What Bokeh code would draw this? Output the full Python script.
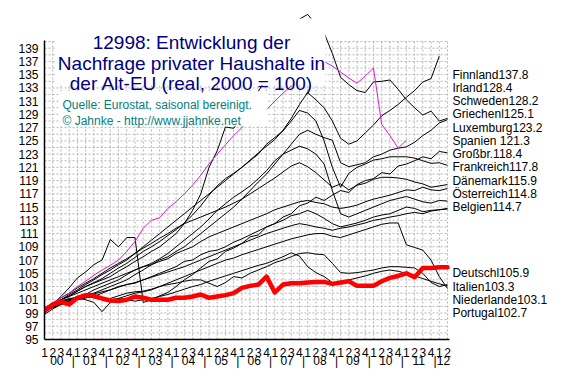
from bokeh.plotting import figure
from bokeh.models import Range1d, LinearAxis, FixedTicker, BoxAnnotation, Label
from bokeh.core.properties import value
from bokeh.embed import file_html
from bokeh.resources import INLINE

# ---------------- data ----------------
years = ["00", "01", "02", "03", "04", "05", "06", "07", "08", "09", "10", "11", "12"]
quarter_names = ["1", "2", "3", "4"]
y_ticks = [95, 97, 99, 101, 103, 105, 107, 109, 111, 113, 115, 117, 119, 121,
           123, 125, 127, 129, 131, 133, 135, 137, 139]

countries = ["Finnland", "Irland", "Schweden", "Griechenl", "Luxemburg", "Spanien ",
             "Großbr.", "Frankreich", "Dänemark", "Österreich", "Belgien",
             "Deutschl", "Italien", "Niederlande", "Portugal"]
last_values = [137.8, 128.4, 128.2, 125.1, 123.2, 121.3, 118.4, 117.8, 115.9,
               114.8, 114.7, 105.9, 103.3, 103.1, 102.7]

finnland = [99.5, 100.4, 101.0, 101.6, 102.3, 103.0, 103.6, 104.2, 105.0, 105.8,
            106.5, 107.4, 108.3, 109.0, 109.8, 110.7, 111.6, 112.6, 113.8, 115.2,
            116.8, 118.2, 119.3, 120.1, 121.0, 122.1, 123.2, 124.2, 125.2, 126.6,
            128.4, 130.5, 132.3, 131.2, 130.0, 128.0, 125.4, 124.5, 125.0, 126.2,
            127.4, 128.8, 129.6, 130.5, 131.6, 132.6, 133.9, 134.4, 137.8]
irland = [99.5, 100.3, 101.0, 101.5, 102.3, 103.0, 103.5, 104.0, 104.5, 105.3,
          106.0, 106.8, 107.5, 108.3, 109.0, 110.0, 111.0, 112.5, 114.5, 117.0,
          121.0, 123.5, 127.1, 126.9, 128.5, 130.4, 132.5, 134.5, 136.5, 138.6,
          140.8, 143.4, 144.1, 142.6, 141.3, 138.2, 134.6, 133.5, 132.6, 132.3,
          133.9, 134.0, 134.2, 132.8, 131.2, 130.0, 128.9, 129.5, 128.0, 128.4]
schweden = [99.8, 100.3, 100.8, 101.0, 101.5, 101.8, 102.0, 102.5, 103.0, 103.5,
            104.0, 104.8, 105.5, 106.3, 107.0, 107.5, 108.3, 109.0, 110.0, 111.0,
            112.0, 113.0, 114.0, 115.0, 116.2, 117.5, 118.8, 120.0, 121.5, 123.0,
            124.5, 126.0, 126.6, 126.0, 125.5, 125.1, 121.7, 121.1, 121.4, 121.7,
            122.6, 123.0, 123.6, 123.9, 124.1, 124.8, 125.8, 126.6, 127.7, 128.2]
griechenland = [99.8, 100.5, 101.3, 102.0, 103.0, 103.8, 104.7, 105.5, 106.2, 107.0,
                108.3, 109.8, 111.8, 113.0, 113.4, 114.8, 115.8, 117.0, 118.3, 119.8,
                121.5, 123.0, 124.4, 125.8, 127.0, 128.2, 128.9, 129.7, 131.0, 132.2,
                133.3, 134.4, 135.4, 136.3, 137.0, 136.3, 135.4, 134.5, 133.7, 134.8,
                136.0, 127.5, 125.8, 123.9, 125.1]
luxemburg = [99.0, 100.3, 101.5, 102.8, 104.3, 105.2, 106.3, 107.0, 110.1, 109.0,
             110.4, 110.4, 100.6, 101.0, 101.6, 102.1, 103.0, 104.0, 104.8, 105.8,
             106.8, 107.2, 108.3, 108.8, 109.5, 110.5, 110.8, 112.0, 112.5, 113.5,
             114.0, 115.2, 115.6, 116.5, 116.0, 116.8, 117.5, 117.2, 118.4, 119.0,
             119.3, 120.2, 120.0, 121.2, 121.5, 122.0, 122.6, 122.3, 123.4, 123.2]
spanien = [99.5, 100.3, 101.0, 101.8, 102.5, 103.3, 104.0, 104.8, 105.5, 106.3,
           107.0, 108.0, 109.0, 110.0, 111.0, 112.0, 113.0, 114.0, 115.0, 116.0,
           117.0, 118.0, 119.0, 120.0, 121.0, 122.0, 123.0, 124.5, 125.5, 126.5,
           128.0, 129.6, 129.2, 128.0, 125.0, 121.0, 118.0, 120.1, 121.0, 121.5,
           122.1, 122.3, 122.6, 122.6, 122.6, 122.4, 122.0, 121.6, 121.7, 121.3]
grossbr = [99.5, 100.5, 101.3, 102.0, 102.8, 103.5, 104.2, 105.0, 105.8, 106.5,
           107.2, 108.0, 108.8, 109.5, 110.3, 111.0, 111.8, 112.5, 113.0, 113.5,
           114.0, 114.5, 115.0, 115.6, 116.2, 117.0, 117.8, 118.6, 119.4, 120.3,
           121.2, 121.7, 121.1, 120.2, 119.1, 118.0, 118.5, 117.6, 118.3, 118.6,
           119.2, 119.5, 119.5, 119.4, 119.2, 118.8, 118.5, 118.0, 118.2, 118.4]
frankreich = [99.8, 100.5, 101.0, 101.5, 102.0, 102.5, 103.0, 103.5, 104.0, 104.5,
              105.0, 105.5, 106.0, 106.3, 106.8, 107.2, 108.0, 108.5, 109.0, 109.8,
              110.5, 111.0, 111.5, 112.0, 112.5, 113.0, 113.5, 114.0, 114.6, 115.0,
              115.4, 115.8, 116.0, 115.7, 115.5, 115.0, 114.8, 115.0, 115.3, 115.8,
              116.2, 116.5, 116.8, 117.2, 117.6, 117.5, 118.0, 117.6, 117.5, 117.8]
daenemark = [99.3, 99.8, 100.3, 100.8, 101.2, 101.8, 102.5, 103.0, 103.5, 104.0,
             104.8, 105.5, 106.0, 106.5, 107.2, 108.0, 109.0, 110.0, 111.0, 112.0,
             113.2, 114.5, 115.5, 116.5, 117.3, 118.2, 119.3, 120.5, 122.0, 123.0,
             123.6, 124.2, 123.8, 123.0, 121.5, 117.5, 114.0, 113.5, 114.0, 114.5,
             115.0, 115.5, 116.0, 116.3, 116.6, 116.2, 115.8, 115.6, 116.0, 115.9]
oesterreich = [99.8, 100.3, 100.7, 101.0, 101.3, 101.6, 101.9, 102.2, 102.5, 102.9,
               103.3, 103.6, 104.0, 104.4, 104.8, 105.2, 105.6, 106.0, 106.5, 107.0,
               107.5, 108.0, 108.5, 109.0, 109.5, 110.0, 110.5, 111.0, 111.4, 111.8,
               112.2, 112.5, 112.3, 112.0, 111.8, 111.5, 111.8, 112.0, 112.3, 112.6,
               113.0, 113.2, 113.5, 113.7, 114.0, 114.2, 114.0, 114.4, 114.6, 114.8]
belgien = [99.3, 99.8, 100.3, 100.8, 101.0, 101.3, 101.5, 102.0, 102.5, 103.0,
           103.3, 103.5, 104.0, 104.5, 105.0, 105.5, 106.0, 106.8, 107.0, 107.8,
           108.3, 108.5, 109.0, 109.7, 110.2, 110.8, 111.4, 112.0, 112.5, 113.0,
           113.7, 114.0, 114.5, 114.0, 113.3, 112.5, 112.0, 112.3, 112.6, 113.0,
           113.5, 113.8, 114.0, 114.5, 115.0, 114.8, 114.3, 114.5, 114.6, 114.7]
deutschland = [99.3, 100.3, 100.7, 100.3, 101.3, 101.7, 101.6, 101.2, 100.9, 100.8,
               101.0, 101.5, 101.3, 101.0, 101.0, 101.0, 101.3, 101.3, 101.5, 101.8,
               101.3, 101.5, 101.7, 102.0, 102.8, 103.1, 103.3, 104.5, 102.1, 103.3,
               103.5, 103.5, 103.6, 103.7, 103.7, 103.4, 103.6, 103.8, 103.1, 103.1,
               103.1, 103.8, 104.3, 104.6, 105.0, 104.4, 105.8, 105.8, 105.9, 105.9]
italien = [99.3, 100.0, 100.5, 100.8, 101.2, 101.5, 101.3, 101.0, 101.2, 101.6,
           102.0, 102.2, 102.3, 102.6, 103.0, 103.3, 103.5, 103.8, 104.0, 104.0,
           103.5, 103.0, 103.6, 104.5, 104.3, 105.0, 105.5, 106.0, 106.6, 107.0,
           107.5, 108.0, 108.1, 107.9, 107.8, 106.5, 105.1, 105.0, 105.1, 105.3,
           105.5, 105.8, 106.0, 106.0, 105.9, 105.8, 105.0, 103.6, 103.0, 103.3]
niederlande = [98.8, 99.6, 100.3, 100.8, 101.0, 101.3, 101.5, 101.3, 101.0, 101.2,
               101.0, 100.8, 101.0, 101.2, 101.5, 101.8, 102.2, 102.6, 103.0, 103.3,
               103.8, 104.2, 104.6, 105.0, 105.4, 105.8, 106.2, 106.5, 107.0, 107.5,
               108.1, 107.6, 106.0, 105.1, 104.5, 103.6, 103.6, 104.0, 104.3, 104.6,
               105.0, 105.3, 105.5, 105.3, 105.0, 104.6, 104.2, 103.8, 103.4, 103.1]
portugal = [99.0, 100.0, 100.8, 101.2, 101.3, 101.0, 100.6, 99.2, 100.6, 101.2,
            101.6, 102.0, 102.2, 102.5, 103.0, 103.5, 104.0, 104.5, 105.0, 105.5,
            106.0, 106.5, 107.0, 107.3, 107.8, 108.2, 108.6, 109.0, 109.4, 109.8,
            110.2, 110.5, 110.8, 111.0, 111.0, 110.6, 110.4, 110.8, 111.2, 111.6,
            112.0, 112.4, 112.6, 112.6, 109.3, 108.9, 108.5, 107.0, 104.5, 102.7]

black_series = [finnland, irland, schweden, luxemburg, spanien, grossbr, frankreich,
                daenemark, oesterreich, belgien, italien, niederlande, portugal]

# ---------------- figure ----------------
N_Q = len(years) * 4 - 2          # quarters shown: 2000Q1 .. 2012Q2
PX_X = 403 / 49                   # pixels per quarter
PX_Y = 6.64                       # pixels per index point
W, H, LEFT, BOTTOM = 547, 370, 44, 30
Y0 = 95
p = figure(width=W, height=H,
           x_range=Range1d(0, (W - LEFT) / PX_X),
           y_range=Range1d(Y0, Y0 + (H - BOTTOM) / PX_Y),
           output_backend="svg", toolbar_location=None, x_axis_type=None, y_axis_type=None,
           min_border_left=LEFT, min_border_right=0, min_border_top=0,
           min_border_bottom=BOTTOM)
p.outline_line_color = None
p.background_fill_color = "white"
p.border_fill_color = "white"

# dashed grid (only inside the chart area)
GRID_TOP = 140
gx = [[q, q] for q in range(1, N_Q)]
gy = [[Y0, GRID_TOP] for q in range(1, N_Q)]
hx = [[0, N_Q - 1] for v in range(Y0 + 1, GRID_TOP + 1)]
hy = [[v, v] for v in range(Y0 + 1, GRID_TOP + 1)]
p.multi_line(gx + hx, gy + hy, line_color="#b4b4b4", line_width=1, line_dash="2 2",
             level="underlay")

# series
for s in black_series:
    p.line(list(range(len(s))), s, line_color="black", line_width=1)
p.line(list(range(len(griechenland))), griechenland, line_color="#d21ed2", line_width=1)
p.line(list(range(len(deutschland))), deutschland, line_color="#ff0000", line_width=4.5,
       line_join="round", line_cap="round")

# axes
FONT = "Liberation Sans"
yax = LinearAxis(ticker=FixedTicker(ticks=y_ticks), bounds=(Y0, 140.2))
xax = LinearAxis(ticker=FixedTicker(ticks=list(range(N_Q))), bounds=(0, N_Q - 0.7),
                 major_label_overrides={i: quarter_names[i % 4] for i in range(N_Q)})
year_labels = {}
for k, yr in enumerate(years):
    nq = 4 if k < len(years) - 1 else 2
    year_labels[4 * k + (nq - 1) / 2] = yr
    if k > 0:
        year_labels[4 * k - 0.5] = "|"
yrax = LinearAxis(ticker=FixedTicker(ticks=sorted(year_labels)),
                  major_label_overrides=year_labels)
for ax in (yax, xax, yrax):
    ax.major_tick_line_color = None
    ax.minor_tick_line_color = None
    ax.major_tick_in = 0
    ax.major_tick_out = 0
    ax.minor_tick_in = 0
    ax.minor_tick_out = 0
    ax.major_label_text_font = FONT
    ax.major_label_text_font_size = "12px"
    ax.major_label_text_color = "black"
    ax.axis_line_color = "black"
    ax.axis_line_width = 1.5
yax.major_label_standoff = 6
xax.major_label_standoff = 8
yrax.axis_line_color = None
yrax.major_label_standoff = -6
p.add_layout(yax, "left")
p.add_layout(xax, "below")
p.add_layout(yrax, "below")

# end labels on the right
slots = [135 - 2 * k for k in range(11)] + [105 - 2 * k for k in range(4)]
labels = [f"{c}{v}" for c, v in zip(countries, last_values)]
p.text(x=[49.6] * len(labels), y=slots, text=labels, text_font=value(FONT),
       text_font_size="12px", text_color="black", text_baseline="middle",
       text_align="left")

# white boxes behind title and source
p.add_layout(BoxAnnotation(left=1.34, right=34.17, bottom=133.4, top=143.5,
                           fill_color="white", fill_alpha=1.0, line_color=None))
p.add_layout(BoxAnnotation(left=1.70, right=27.11, bottom=127.2, top=132.5,
                           fill_color="white", fill_alpha=1.0, line_color=None))

title_lines = ["12998: Entwicklung der", "Nachfrage privater Haushalte in",
               "der Alt-EU (real, 2000 = 100)"]
for txt, yy in zip(title_lines, [139.88, 136.72, 133.70]):
    p.add_layout(Label(x=17.87, y=yy, text=txt, text_align="center",
                       text_baseline="alphabetic", text_font=FONT,
                       text_font_size="19px", text_color="#000080"))
source_lines = ["Quelle: Eurostat, saisonal bereinigt.", "© Jahnke - http://www.jjahnke.net"]
for txt, yy in zip(source_lines, [130.47, 128.06]):
    p.add_layout(Label(x=2.19, y=yy, text=txt, text_align="left",
                       text_baseline="alphabetic", text_font=FONT,
                       text_font_size="12px", text_color="#008080"))

open("out.html", "w").write(file_html(p, INLINE))
